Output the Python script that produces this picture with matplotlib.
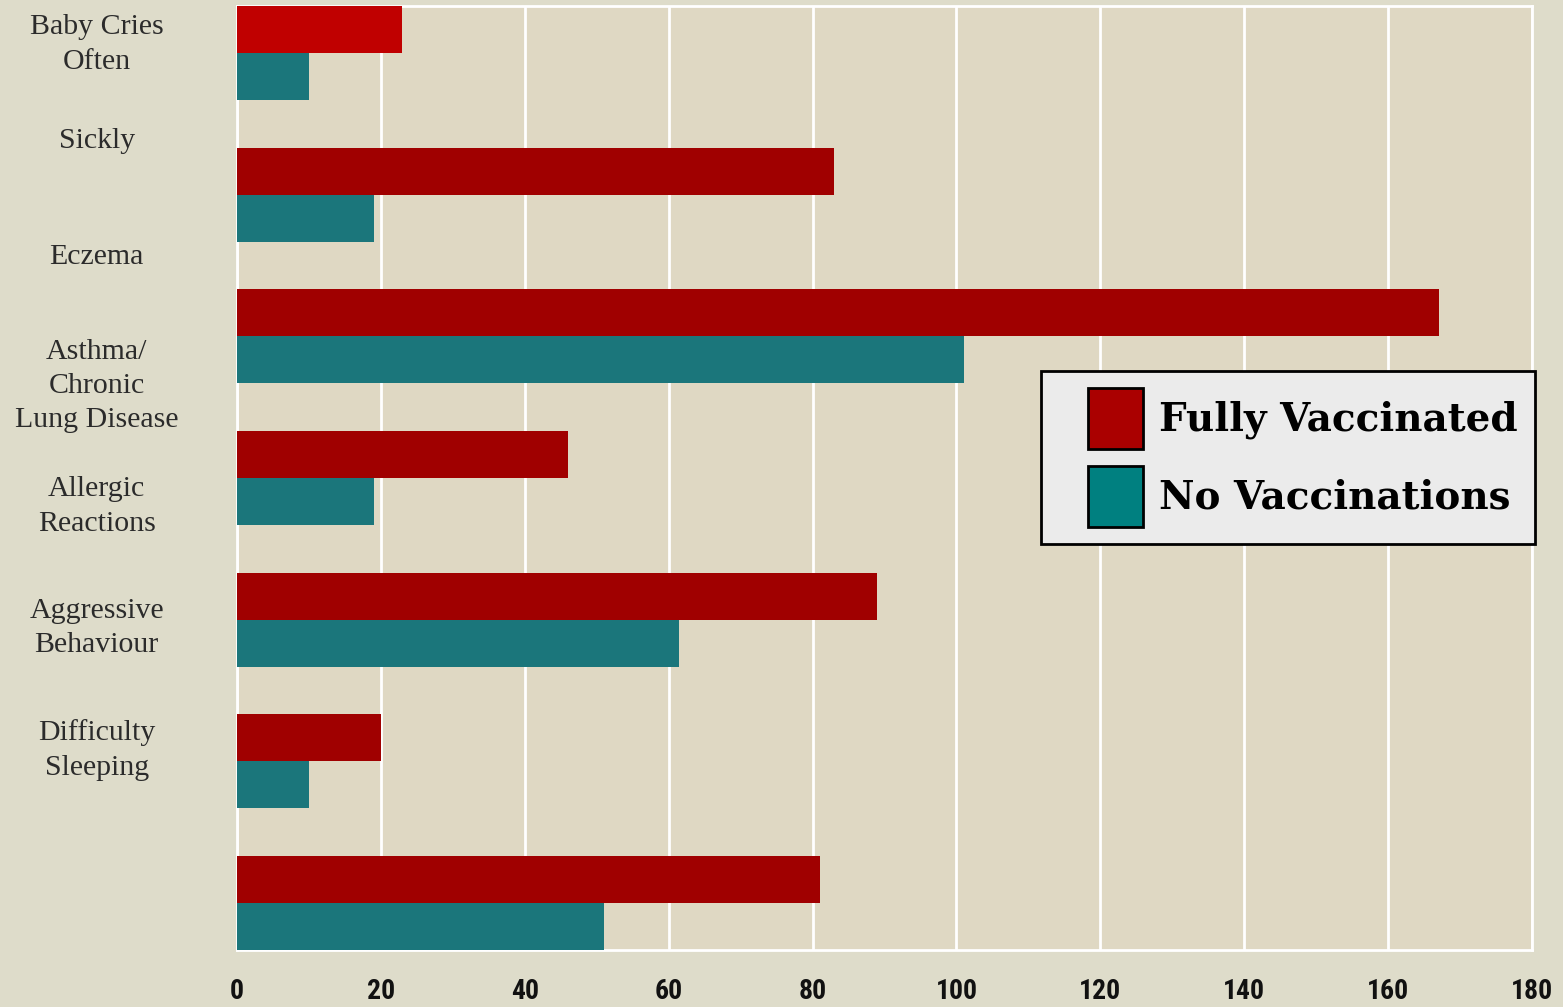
import numpy as np
import matplotlib.pyplot as plt
from matplotlib.patches import Patch, Rectangle
from matplotlib.legend_handler import HandlerPatch

# 1) Data
groups = ["Group 1", "Group 2", "Group 3", "Group 4", "Group 5", "Group 6", "Group 7"]
fully_vaccinated = [23, 83, 167, 46, 89, 20, 81]
no_vaccinations = [10, 19, 101, 19, 61.5, 10, 51]

# category labels sit a bit above their bars in the original
label_text = [
    "Baby Cries\nOften",
    "Sickly",
    "Eczema",
    "Asthma/\nChronic\nLung Disease",
    "Allergic\nReactions",
    "Aggressive\nBehaviour",
    "Difficulty\nSleeping",
]
label_pos = [-0.11, 0.6, 1.42, 2.3, 3.15, 4.01, 4.87]

x_ticks = [0, 20, 40, 60, 80, 100, 120, 140, 160, 180]

# 2) Colours
fig_bg = "#DEDCCA"
ax_bg = "#DFD8C3"
red = "#A00000"
red_first = "#C00000"
teal = "#1B767B"

# 3) Figure
fig = plt.figure(figsize=(15.63, 10.07), dpi=100, facecolor=fig_bg)
ax = fig.add_axes([0.1516, 0.0566, 0.8286, 0.9374], facecolor=ax_bg)

y = np.arange(len(groups))
h = 0.332
red_colors = [red_first] + [red] * (len(groups) - 1)
ax.barh(y - h / 2, fully_vaccinated, height=h, color=red_colors, zorder=3)
ax.barh(y + h / 2, no_vaccinations, height=h, color=teal, zorder=3)

ax.set_xlim(0, 180)
ax.set_ylim(len(groups) - 1 + h, -h)

# vertical white grid
ax.set_xticks(x_ticks)
ax.grid(axis="x", color="white", linewidth=2, zorder=1)
for s in ax.spines.values():
    s.set_color("white")
    s.set_linewidth(2)

ax.tick_params(axis="x", length=0, pad=20.5)
for lbl in ax.get_xticklabels():
    lbl.set_family(["Liberation Sans Narrow", "DejaVu Sans Condensed",
                    "Roboto Condensed", "Liberation Sans"])
    lbl.set_fontweight("bold")
    lbl.set_fontstretch("condensed")
    lbl.set_fontsize(20)
    lbl.set_color("#111111")

ax.set_yticks(label_pos)
ax.set_yticklabels(label_text)
ax.tick_params(axis="y", length=0, pad=101)
for lbl in ax.get_yticklabels():
    lbl.set_family(["Liberation Serif", "DejaVu Serif"])
    lbl.set_fontsize(21.5)
    lbl.set_color("#2B2B2B")
    lbl.set_ha("center")
    lbl.set_multialignment("center")
    lbl.set_linespacing(1.42)


# 4) Legend: square swatches pushed to the right side of a wide handle box
def square_patch(legend, orig_handle, xdescent, ydescent, width, height, fontsize):
    side = height * 55 / 60
    return Rectangle((-xdescent + width - side, -ydescent), side, height)


handles = [
    Patch(facecolor="#AA0000", edgecolor="black", linewidth=2),
    Patch(facecolor="#008080", edgecolor="black", linewidth=2),
]
leg = ax.legend(
    handles, ["Fully Vaccinated", "No Vaccinations"],
    loc="upper right", bbox_to_anchor=(0.9821, 0.6316),
    bbox_transform=fig.transFigure,
    prop={"family": "DejaVu Serif", "weight": "bold", "size": 28},
    facecolor="#EBEBEB", edgecolor="black", framealpha=1, fancybox=False,
    handlelength=2.19, handleheight=2.0, labelspacing=0.46,
    borderpad=0.45, handletextpad=0.4, borderaxespad=0,
    handler_map={Patch: HandlerPatch(patch_func=square_patch)},
)
leg.get_frame().set_linewidth(2)
leg.set_zorder(5)

plt.savefig("out.png", dpi=100, facecolor=fig_bg)
